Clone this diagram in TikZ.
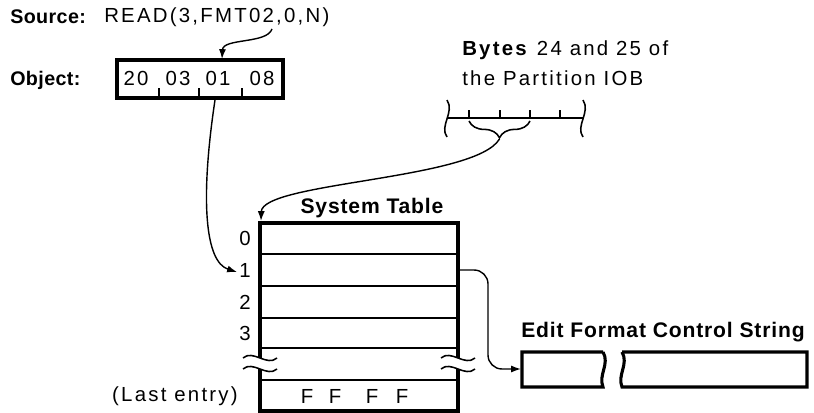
\documentclass[tikz,border=0pt]{standalone}
\usepackage{fontspec}
\setmainfont{Liberation Sans}[LetterSpace=11]
\newfontfamily\headfont{Liberation Sans}[LetterSpace=2]
\newfontfamily\titlefont{Liberation Sans}[LetterSpace=4]
\usepackage{tikz}
\usetikzlibrary{arrows.meta}
\usetikzlibrary{decorations.pathreplacing}
\tikzset{txt/.style={inner sep=0pt, font={\fontsize{14.5}{17}\selectfont}},
  head/.style={inner sep=0pt, font={\fontsize{14}{17}\headfont\bfseries}},
  title/.style={inner sep=0pt, font={\fontsize{15}{18}\titlefont\bfseries}},
  heavy/.style={line width=2.2pt},
  rule/.style={line width=1.1pt},
  ptr/.style={-{Latex[length=7pt,width=5pt]}, line width=1pt}}

\begin{document}
\begin{tikzpicture}[x=0.025cm, y=-0.025cm]      % 1 unit = 1 px of the figure
    \useasboundingbox (0,0) rectangle (814,413);

    % source statement and its object code
    \node[head, anchor=west] at (10,17) (srclbl) {Source:};
    \node[txt, anchor=west] at (104,17) (src) {READ(3,FMT02,0,N)};
    \node[head, anchor=west] at (10,80) (objlbl) {Object:};
    \draw[heavy] (117,60) rectangle (283,98);
    \foreach \x/\v in {136/20, 178/03, 218/01, 262/08}
        \node[txt] at (\x,78) (d\v) {\v};
    \foreach \x in {159,199,242}
        \draw[rule] (\x,98) -- (\x,88);
    \coordinate (fmt) at (272,29);
    \coordinate (objin) at (222,59);
    \coordinate (objout) at (215,100);
    \draw[ptr] (fmt) .. controls (267,44) and (223,38) .. (objin);

    % bytes 24 and 25 of the partition IOB
    \node[txt, anchor=west] at (462,50) (bytes) {\textbf{Bytes} 24 and 25 of};
    \node[txt, anchor=west] at (462,78) (iob) {the Partition IOB};
    \draw[rule] (447,118) -- (583,118);
    \foreach \x in {469,500,530,560}
        \draw[rule] (\x,118) -- (\x,110);
    \draw[rule] (447,100) .. controls (455,112) and (439,126) .. (447,137);
    \draw[rule] (583,100) .. controls (591,112) and (575,126) .. (583,137);
    \draw[rule, decorate, decoration={brace, amplitude=0.42cm}] (530,121) -- (469,121);
    \coordinate (bytetip) at (499.5,139);

    % system table
    \node[title] at (372,208) (systab) {System Table};
    \draw[heavy] (260,358) -- (260,223) -- (458,223) -- (458,358);
    \draw[heavy] (260,369) -- (260,411) -- (458,411) -- (458,369);
    \foreach \y in {254,286,318,348,380}
        \draw[rule] (260,\y) -- (458,\y);
    \foreach \x in {260,458}
        \foreach \y in {358,369}
            \draw[rule] (\x-17,\y) .. controls (\x-7,\y-9) and (\x+7,\y+9) .. (\x+17,\y);
    \foreach \i/\y in {0/238, 1/270, 2/302, 3/333}
        \node[txt] at (245,\y) (r\i) {\i};
    \node[txt, anchor=east] at (238,396) (lastlbl) {(Last entry)};
    \foreach \x [count=\k] in {307,335,372,402}
        \node[txt] at (\x,396) (f\k) {F};
    \coordinate (tabin) at (261,221);
    \coordinate (rowin) at (237,272);
    \coordinate (rowout) at (458,270);

    \draw[ptr] (bytetip) .. controls (475,180) and (262,182) .. (tabin);
    \draw[ptr] (objout) .. controls (200,200) and (205,262) .. (rowin);

    % edit format control string
    \node[title, anchor=west] at (521,332) (efcs) {Edit Format Control String};
    \draw[heavy] (603,352) -- (522,352) -- (522,387) -- (603,387) .. controls (598,375) and (610,364) .. (603,352);
    \draw[heavy] (622,352) -- (807,352) -- (807,387) -- (622,387) .. controls (617,375) and (629,364) .. (622,352);
    \coordinate (efcsin) at (521,369);
    \draw[ptr, rounded corners=0.35cm] (rowout) -- (488,270) -- (488,369) -- (efcsin);
\end{tikzpicture}
\end{document}
